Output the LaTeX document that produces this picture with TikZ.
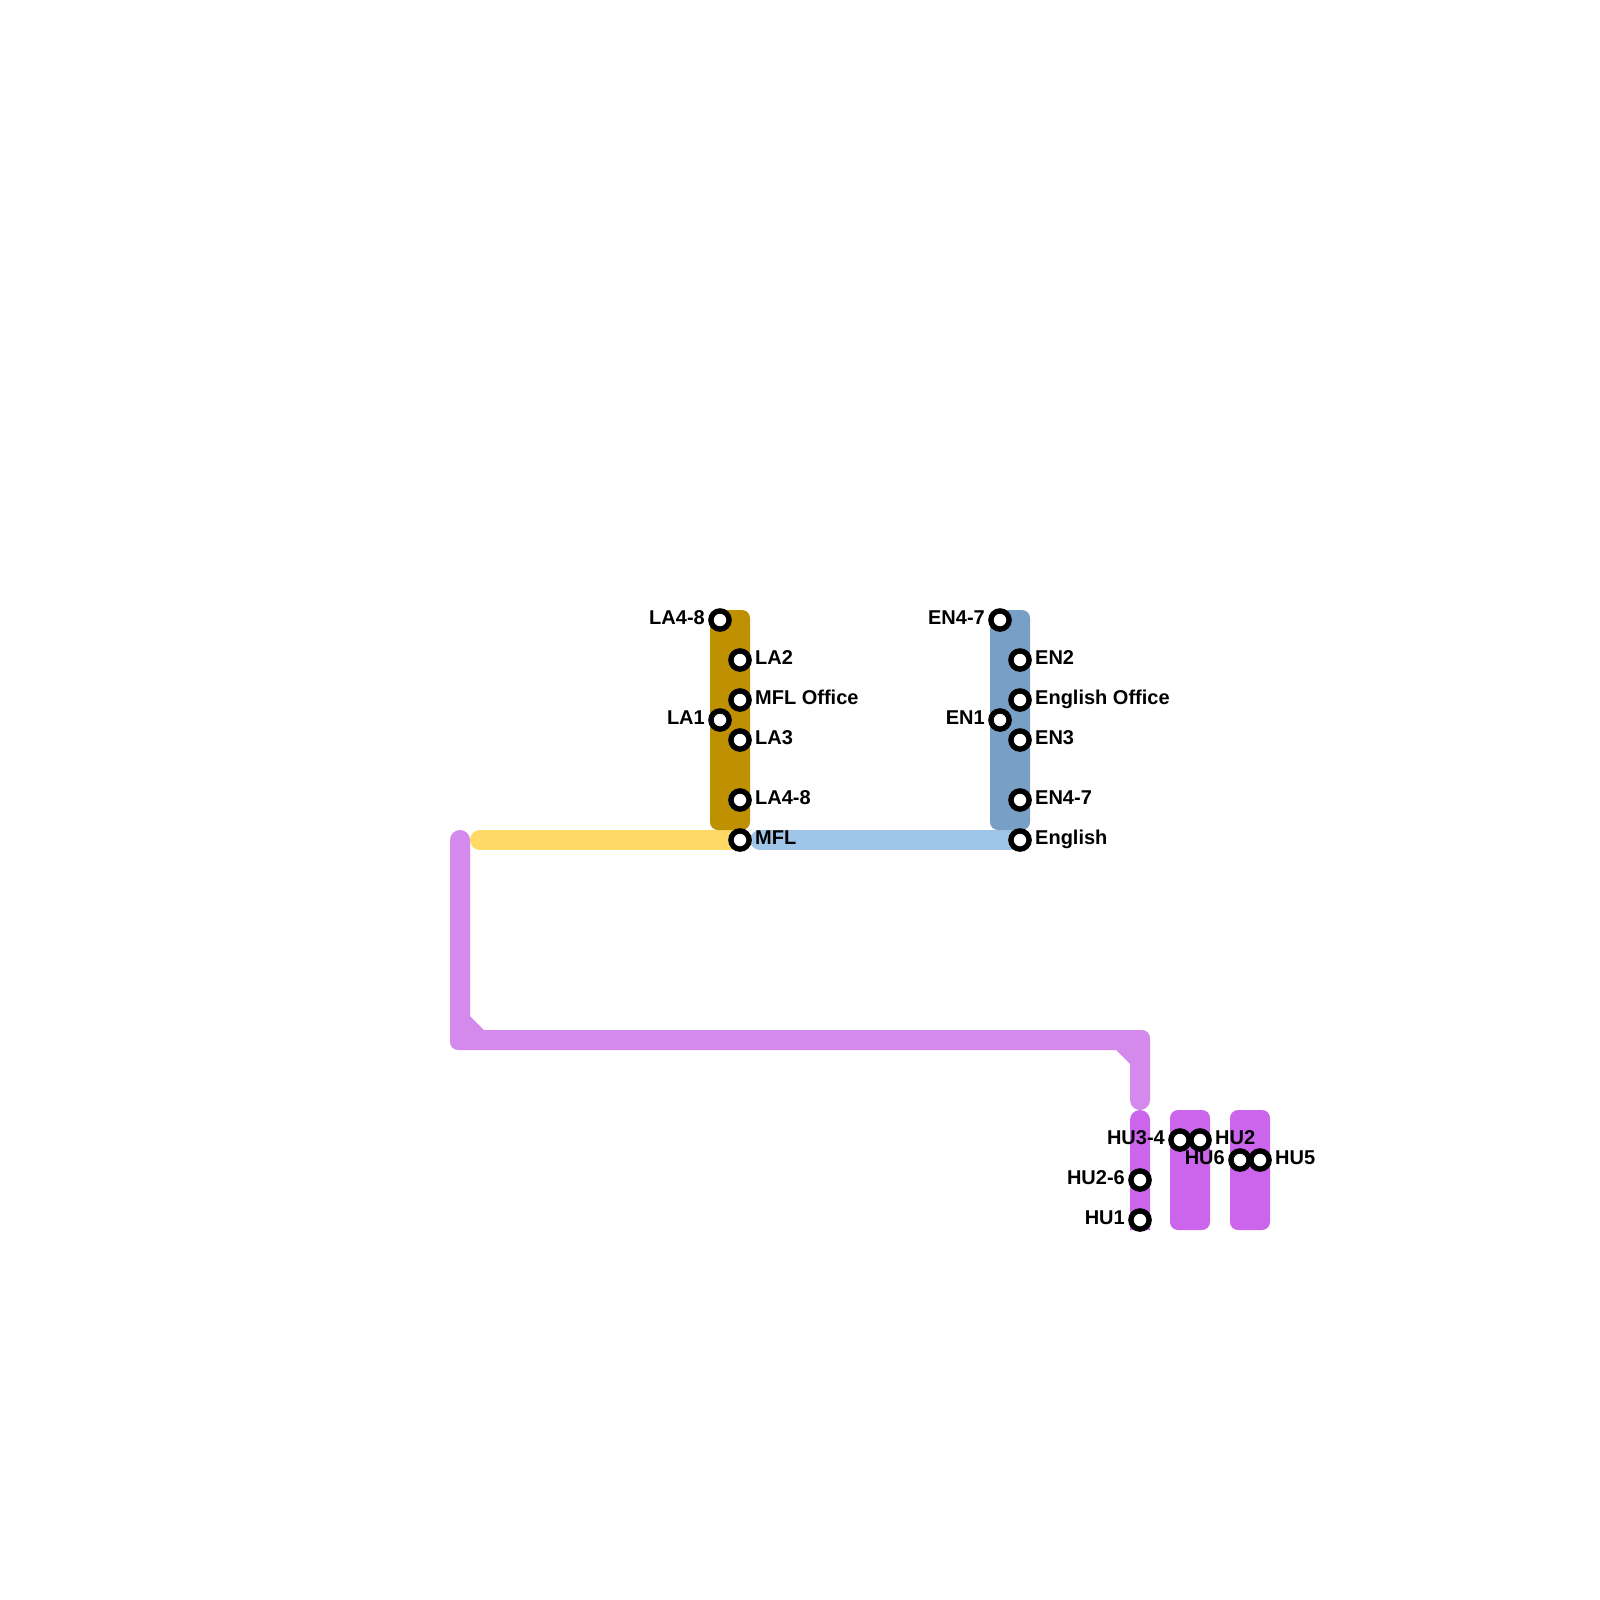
\documentclass[tikz,border=0pt]{standalone}
\usepackage{fontspec}
\setmainfont{Liberation Sans}
\definecolor{gold}{HTML}{BF9000}
\definecolor{yel}{HTML}{FFD966}
\definecolor{sky}{HTML}{9FC5E8}
\definecolor{steel}{HTML}{789FC6}
\definecolor{lilac}{HTML}{D48AEC}
\definecolor{violet2}{HTML}{CB65EC}
\tikzset{
  x=1pt,y=-1pt,
  block/.style={rounded corners=8pt},
  track/.style={line width=20pt,line cap=round,line join=round},
  stn/.style={circle,draw=black,fill=white,line width=5.4pt,minimum size=18.2pt,inner sep=0pt,outer sep=0pt},
  lblr/.style={anchor=base west,inner sep=0pt,font=\fontsize{20}{20}\selectfont\bfseries},
  lbll/.style={anchor=base east,inner sep=0pt,font=\fontsize{20}{20}\selectfont\bfseries}
}
\newcommand{\stnr}[4]{\node[stn] (#1) at (#2,#3) {};\node[lblr] (#1t) at (#2+15,#3+4.2) {#4};}
\newcommand{\stnl}[4]{\node[stn] (#1) at (#2,#3) {};\node[lbll] (#1t) at (#2-15,#3+4.2) {#4};}
\begin{document}
\begin{tikzpicture}
\useasboundingbox (0,0) rectangle (1600,1600);
% lines
\coordinate (yelA) at (480,840);
\coordinate (mflC) at (740,840);
\coordinate (skyA) at (760,840);
\coordinate (engC) at (1020,840);
\draw[track,yel] (yelA) -- (mflC);
\draw[track,sky] (skyA) -- (engC);
% long lilac line
\fill[lilac] (450,840) arc[start angle=180,end angle=360,radius=10] -- (470,1016) -- (484,1030) -- (1142,1030)
  arc[start angle=270,end angle=360,radius=8] -- (1150,1100) arc[start angle=0,end angle=180,radius=10] -- (1130,1064) -- (1116,1050) -- (458,1050)
  arc[start angle=90,end angle=180,radius=8] -- cycle;
% blocks
\fill[gold,block] (710,610) rectangle (750,830);
\fill[steel,block] (990,610) rectangle (1030,830);
\fill[violet2] (1130,1120) arc[start angle=180,end angle=360,radius=10] -- (1150,1230) -- (1130,1230) -- cycle;
\fill[violet2,block] (1170,1110) rectangle (1210,1230);
\fill[violet2,block] (1230,1110) rectangle (1270,1230);
% stations
\stnl{a}{720}{620}{LA4-8}
\stnr{b}{740}{660}{LA2}
\stnr{c}{740}{700}{MFL Office}
\stnl{d}{720}{720}{LA1}
\stnr{e}{740}{740}{LA3}
\stnr{f}{740}{800}{LA4-8}
\stnr{g}{740}{840}{MFL}
\stnl{h}{1000}{620}{EN4-7}
\stnr{i}{1020}{660}{EN2}
\stnr{j}{1020}{700}{English Office}
\stnl{k}{1000}{720}{EN1}
\stnr{l}{1020}{740}{EN3}
\stnr{m}{1020}{800}{EN4-7}
\stnr{n}{1020}{840}{English}
\stnl{o}{1180}{1140}{HU3-4}
\stnr{p}{1200}{1140}{HU2}
\stnl{q}{1240}{1160}{HU6}
\stnr{r}{1260}{1160}{HU5}
\stnl{s}{1140}{1180}{HU2-6}
\stnl{t}{1140}{1220}{HU1}
\end{tikzpicture}
\end{document}
